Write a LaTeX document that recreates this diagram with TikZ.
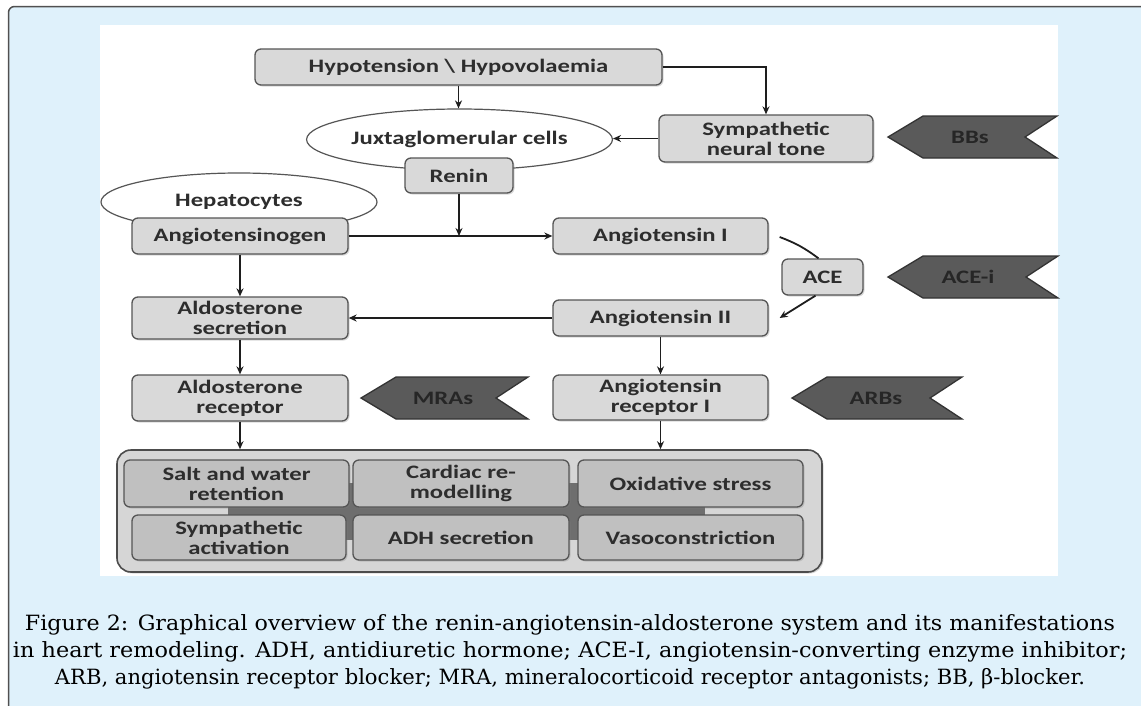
\documentclass[tikz,border=0pt]{standalone}
\usepackage{fontspec}
\usepackage{graphicx}
\usetikzlibrary{arrows.meta,shapes.geometric,shadows}
\newfontfamily\diagfont{Carlito}[FakeStretch=1.3]
\newfontfamily\capfont{DejaVu Serif}
\definecolor{bgblue}{RGB}{223,241,251}
\definecolor{framegray}{RGB}{80,80,80}
\definecolor{boxfill}{RGB}{217,217,217}
\definecolor{boxline}{RGB}{85,85,85}
\definecolor{txt}{RGB}{45,45,45}
\definecolor{bigfill}{RGB}{214,214,214}
\definecolor{innerfill}{RGB}{192,192,192}
\definecolor{bandfill}{RGB}{110,110,110}
\definecolor{drugfill}{RGB}{90,90,90}
\definecolor{arrowcol}{RGB}{30,30,30}
\tikzset{
  dfont/.style={font=\diagfont\bfseries\fontsize{19}{20}\selectfont},
  box/.style={dfont, draw=boxline, fill=boxfill, line width=1.3pt, rounded corners=6pt,
    text=txt, align=center, inner sep=0pt,
    drop shadow={opacity=0.3, shadow xshift=1.5pt, shadow yshift=-1.5pt}},
  innerbox/.style={box, fill=innerfill},
  oval/.style={dfont, ellipse, draw=boxline, fill=white, line width=1.2pt, text=txt, inner sep=0pt},
  drug/.style={draw=black!80, fill=drugfill, line width=1.3pt, line join=miter},
  drugtext/.style={dfont, text=black!85, inner sep=0pt},
  arr/.style={draw=arrowcol, line width=1.8pt, -{Stealth[length=8pt,width=7pt]}},
  plainline/.style={draw=arrowcol, line width=1.8pt},
  captext/.style={font=\capfont\fontsize{21}{27}\selectfont, text=black, inner sep=0pt}
}
\newcommand\drugsign[6]{% name, xtip, xright, ycenter, label, labelx
  \draw[drug] (#2,#4) -- (#2+35,#4-21) -- (#3,#4-21) -- (#3-32,#4) -- (#3,#4+21) -- (#2+35,#4+21) -- cycle;
  \node[drugtext] (#1) at (#6,#4) {#5};}
\begin{document}
\begin{tikzpicture}[x=1pt,y=-1pt]
\useasboundingbox (0,0) rectangle (1141,705);
\clip (0,0) rectangle (1141,705);
\fill[white] (0,0) rectangle (1141,705);
\draw[fill=bgblue, draw=framegray, line width=1.5pt, rounded corners=6pt] (8.5,6.5) rectangle (1170,730);
\fill[white] (100,25) rectangle (1058,576);

% top part
\node[box, minimum width=407pt, minimum height=36pt] (hypo) at (458.5,67) {Hypotension \textbackslash{} Hypovolaemia};
\node[oval, minimum width=273pt, minimum height=61pt] (juxta) at (459.5,139.5) {Juxtaglomerular cells};
\node[box, minimum width=214pt, minimum height=47pt] (symp) at (766,138.5) {Sympathetic\\neural tone};
\node[box, minimum width=108pt, minimum height=35pt] (renin) at (459,175.5) {Renin};
\node[oval, minimum width=276pt, minimum height=58pt] (hep) at (239,202) {Hepatocytes};
\node[box, minimum width=216pt, minimum height=36pt] (angen) at (240,236) {Angiotensinogen};
\node[box, minimum width=215pt, minimum height=36pt] (angI) at (660.5,236) {Angiotensin I};
\node[box, minimum width=81pt, minimum height=36pt] (ace) at (822.5,277) {ACE};
\node[box, minimum width=215pt, minimum height=36pt] (angII) at (660.5,318) {Angiotensin II};
\node[box, minimum width=216pt, minimum height=42pt] (aldosec) at (240,318) {Aldosterone\\secretion};
\node[box, minimum width=216pt, minimum height=46pt] (aldorec) at (240,398) {Aldosterone\\receptor};
\node[box, minimum width=215pt, minimum height=45pt] (angRI) at (660.5,397.5) {Angiotensin\\receptor I};

% drug signs
\drugsign{bbs}{888}{1057}{137}{BBs}{970}
\drugsign{acei}{888}{1058}{277}{ACE-i}{968}
\drugsign{mras}{361}{528}{398}{MRAs}{443}
\drugsign{arbs}{792}{962}{398}{ARBs}{876}

% bottom container
\node[box, fill=bigfill, draw=black!70, line width=1.6pt, rounded corners=14pt, minimum width=705pt, minimum height=122pt] (big) at (469.5,511) {};
\fill[bandfill] (228,483) rectangle (705,540);
\node[innerbox, minimum width=225pt, minimum height=47pt] (salt) at (236.5,483.5) {Salt and water\\retention};
\node[innerbox, minimum width=216pt, minimum height=47pt] (cardiac) at (461,483.5) {Cardiac re-\\modelling};
\node[innerbox, minimum width=225pt, minimum height=47pt] (oxid) at (690.5,483.5) {Oxidative stress};
\node[innerbox, minimum width=214pt, minimum height=45pt] (symact) at (239,537.5) {Sympathetic\\activation};
\node[innerbox, minimum width=216pt, minimum height=45pt] (adh) at (461,537.5) {ADH secretion};
\node[innerbox, minimum width=225pt, minimum height=45pt] (vaso) at (690.5,537.5) {Vasoconstriction};

% connectors
\draw[arr] (hypo.south) -- (hypo.south |- juxta.north);
\draw[arr] (hypo.east) -| (symp.north);
\draw[arr] (symp.west) -- (symp.west -| juxta.east);
\draw[arr] (renin.south) -- (renin.south |- angen.east);
\draw[arr] (angen.east) -- (angI.west);
\draw[arr] (angen.south) -- (aldosec.north);
\draw[plainline] ([xshift=11pt,yshift=-1pt]angI.east) to[bend left=8] ([xshift=-4pt]ace.north);
\draw[arr] ([xshift=-7pt]ace.south) -- ([xshift=11pt]angII.east);
\draw[arr] (angII.west) -- (aldosec.east);
\draw[arr] (angII.south) -- (angRI.north);
\draw[arr] (aldosec.south) -- (aldorec.north);
\draw[arr] (aldorec.south) -- (aldorec.south |- big.north);
\draw[arr] (angRI.south) -- (angRI.south |- big.north);

% caption
\node[captext, anchor=base] (cap1) at (570,630) {\resizebox{1090pt}{\height}{Figure 2: Graphical overview of the renin-angiotensin-aldosterone system and its manifestations}};
\node[captext, anchor=base] (cap2) at (570,657) {\resizebox{1114pt}{\height}{in heart remodeling. ADH, antidiuretic hormone; ACE-I, angiotensin-converting enzyme inhibitor;}};
\node[captext, anchor=base] (cap3) at (570,684) {\resizebox{1030pt}{\height}{ARB, angiotensin receptor blocker; MRA, mineralocorticoid receptor antagonists; BB, β-blocker.}};
\end{tikzpicture}
\end{document}
